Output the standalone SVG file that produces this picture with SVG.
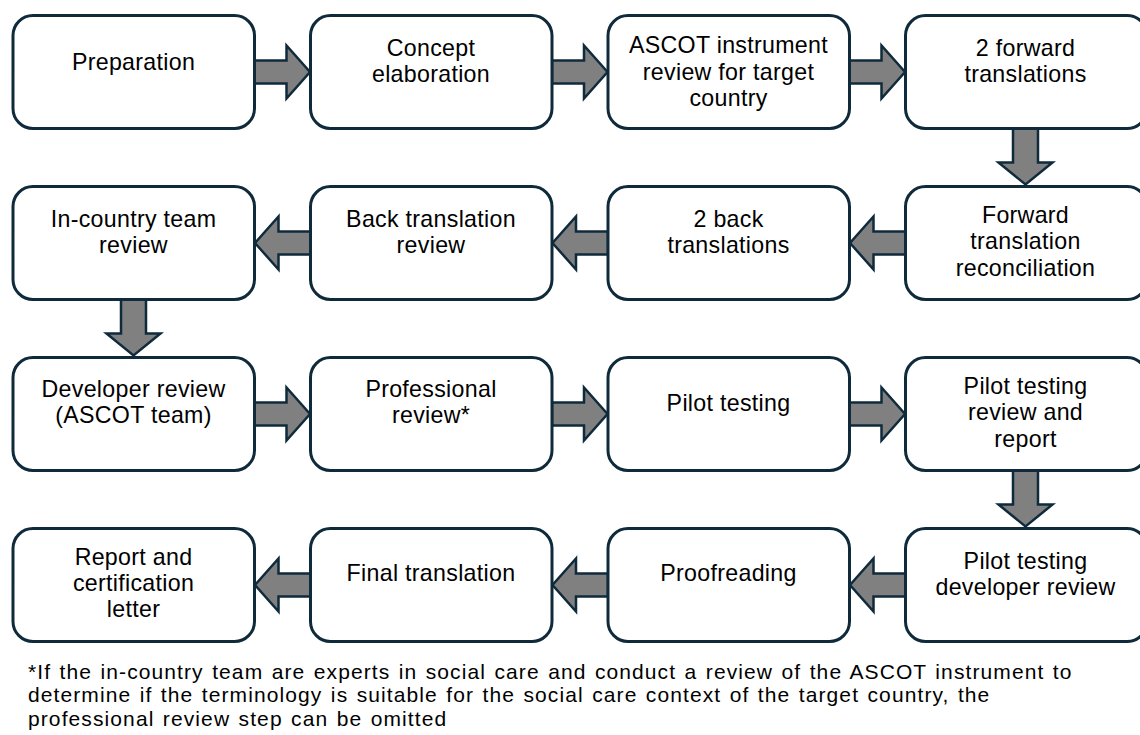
<svg xmlns="http://www.w3.org/2000/svg" width="1140" height="735" viewBox="0 0 1140 735">
  <style>
    .box { fill: #ffffff; stroke: #0f2b3b; stroke-width: 3; }
    .arrow { fill: #808080; stroke: #0f2b3b; stroke-width: 2.5; stroke-linejoin: miter; }
    .lbl { font-family: "Liberation Sans", Arial, sans-serif; font-size: 23.2px; letter-spacing: 0.3px; fill: #000000; text-anchor: middle; }
    .note { font-family: "Liberation Sans", Arial, sans-serif; font-size: 21px; letter-spacing: 1.1px; word-spacing: 1.5px; fill: #000000; }
  </style>
  <defs>
    <!-- block arrow pointing right, origin at tail centre -->
    <path id="arrR" d="M0,-11.5 H32 V-26.5 L55.5,0 L32,26.5 V11.5 H0 Z"/>
    <!-- block arrow pointing down, origin at tail centre -->
    <path id="arrD" d="M-12.5,0 V34 H-27 L0,56 L27,34 H12.5 V0 Z"/>
  </defs>

  <rect width="1140" height="735" fill="#ffffff"/>

  <!-- connectors -->
  <g id="connectors" class="arrow">
    <use href="#arrR" transform="translate(254.5,72)"/>
    <use href="#arrR" transform="translate(552,72)"/>
    <use href="#arrR" transform="translate(849.5,72)"/>
    <use href="#arrD" transform="translate(1025.5,128.5)"/>
    <use href="#arrR" transform="translate(905.5,243) scale(-1,1)"/>
    <use href="#arrR" transform="translate(608,243) scale(-1,1)"/>
    <use href="#arrR" transform="translate(310.5,243) scale(-1,1)"/>
    <use href="#arrD" transform="translate(133.5,299.5)"/>
    <use href="#arrR" transform="translate(254.5,414)"/>
    <use href="#arrR" transform="translate(552,414)"/>
    <use href="#arrR" transform="translate(849.5,414)"/>
    <use href="#arrD" transform="translate(1025.5,470.5)"/>
    <use href="#arrR" transform="translate(905.5,585) scale(-1,1)"/>
    <use href="#arrR" transform="translate(608,585) scale(-1,1)"/>
    <use href="#arrR" transform="translate(310.5,585) scale(-1,1)"/>
  </g>

  <!-- row 1 -->
  <g id="preparation">
    <rect class="box" x="13" y="15.5" width="241.5" height="113" rx="20"/>
    <text class="lbl" x="133.5" y="70">Preparation</text>
  </g>
  <g id="concept-elaboration">
    <rect class="box" x="310.5" y="15.5" width="241.5" height="113" rx="20"/>
    <text class="lbl" x="431" y="56">Concept</text>
    <text class="lbl" x="431" y="82">elaboration</text>
  </g>
  <g id="instrument-review">
    <rect class="box" x="608" y="15.5" width="241.5" height="113" rx="20"/>
    <text class="lbl" x="728.5" y="53">ASCOT instrument</text>
    <text class="lbl" x="728.5" y="79.5">review for target</text>
    <text class="lbl" x="728.5" y="106">country</text>
  </g>
  <g id="forward-translations">
    <rect class="box" x="905.5" y="15.5" width="241.5" height="113" rx="20"/>
    <text class="lbl" x="1025.5" y="56">2 forward</text>
    <text class="lbl" x="1025.5" y="82">translations</text>
  </g>

  <!-- row 2 -->
  <g id="in-country-review">
    <rect class="box" x="13" y="186.5" width="241.5" height="113" rx="20"/>
    <text class="lbl" x="133.5" y="227">In-country team</text>
    <text class="lbl" x="133.5" y="253">review</text>
  </g>
  <g id="back-translation-review">
    <rect class="box" x="310.5" y="186.5" width="241.5" height="113" rx="20"/>
    <text class="lbl" x="431" y="227">Back translation</text>
    <text class="lbl" x="431" y="253">review</text>
  </g>
  <g id="back-translations">
    <rect class="box" x="608" y="186.5" width="241.5" height="113" rx="20"/>
    <text class="lbl" x="728.5" y="227">2 back</text>
    <text class="lbl" x="728.5" y="253">translations</text>
  </g>
  <g id="forward-reconciliation">
    <rect class="box" x="905.5" y="186.5" width="241.5" height="113" rx="20"/>
    <text class="lbl" x="1025.5" y="223">Forward</text>
    <text class="lbl" x="1025.5" y="249">translation</text>
    <text class="lbl" x="1025.5" y="275.5">reconciliation</text>
  </g>

  <!-- row 3 -->
  <g id="developer-review">
    <rect class="box" x="13" y="357.5" width="241.5" height="113" rx="20"/>
    <text class="lbl" x="133.5" y="397">Developer review</text>
    <text class="lbl" x="133.5" y="423">(ASCOT team)</text>
  </g>
  <g id="professional-review">
    <rect class="box" x="310.5" y="357.5" width="241.5" height="113" rx="20"/>
    <text class="lbl" x="431" y="397">Professional</text>
    <text class="lbl" x="431" y="423">review*</text>
  </g>
  <g id="pilot-testing">
    <rect class="box" x="608" y="357.5" width="241.5" height="113" rx="20"/>
    <text class="lbl" x="728.5" y="411">Pilot testing</text>
  </g>
  <g id="pilot-review-report">
    <rect class="box" x="905.5" y="357.5" width="241.5" height="113" rx="20"/>
    <text class="lbl" x="1025.5" y="394">Pilot testing</text>
    <text class="lbl" x="1025.5" y="420">review and</text>
    <text class="lbl" x="1025.5" y="446.5">report</text>
  </g>

  <!-- row 4 -->
  <g id="report-certification">
    <rect class="box" x="13" y="528.5" width="241.5" height="113" rx="20"/>
    <text class="lbl" x="133.5" y="565">Report and</text>
    <text class="lbl" x="133.5" y="591">certification</text>
    <text class="lbl" x="133.5" y="617">letter</text>
  </g>
  <g id="final-translation">
    <rect class="box" x="310.5" y="528.5" width="241.5" height="113" rx="20"/>
    <text class="lbl" x="431" y="581">Final translation</text>
  </g>
  <g id="proofreading">
    <rect class="box" x="608" y="528.5" width="241.5" height="113" rx="20"/>
    <text class="lbl" x="728.5" y="581">Proofreading</text>
  </g>
  <g id="pilot-developer-review">
    <rect class="box" x="905.5" y="528.5" width="241.5" height="113" rx="20"/>
    <text class="lbl" x="1025.5" y="569">Pilot testing</text>
    <text class="lbl" x="1025.5" y="595">developer review</text>
  </g>

  <!-- footnote -->
  <g id="footnote" class="note">
    <text x="28" y="678.5">*If the in-country team are experts in social care and conduct a review of the ASCOT instrument to</text>
    <text x="28" y="702">determine if the terminology is suitable for the social care context of the target country, the</text>
    <text x="28" y="725.5">professional review step can be omitted</text>
  </g>
</svg>
